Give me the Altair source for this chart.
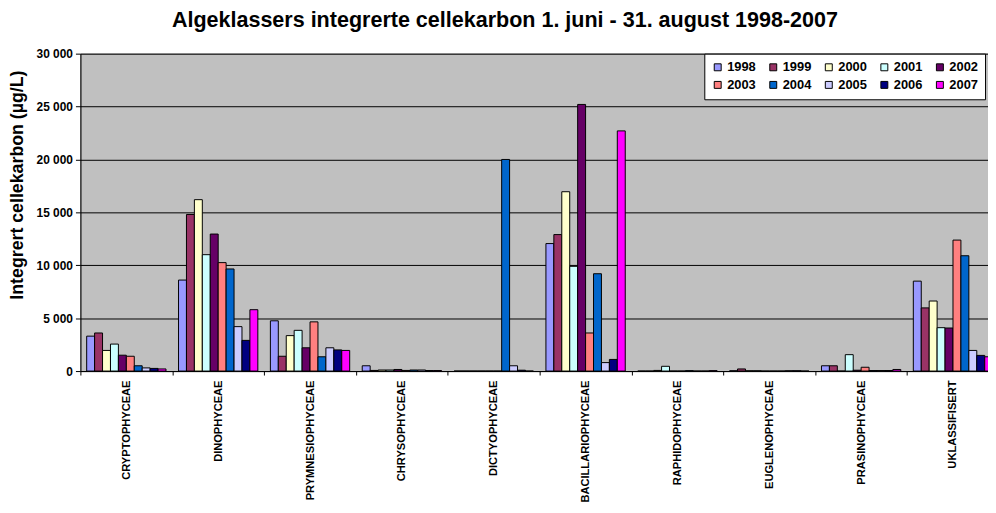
import altair as alt
import pandas as pd

categories = ["CRYPTOPHYCEAE", "DINOPHYCEAE", "PRYMNESIOPHYCEAE", "CHRYSOPHYCEAE",
              "DICTYOPHYCEAE", "BACILLARIOPHYCEAE", "RAPHIDOPHYCEAE", "EUGLENOPHYCEAE",
              "PRASINOPHYCEAE", "UKLASSIFISERT"]
years = ["1998", "1999", "2000", "2001", "2002", "2003", "2004", "2005", "2006", "2007"]

v1998 = [3300, 8600, 4750, 500, 0, 12050, 0, 30, 500, 8500]
v1999 = [3600, 14800, 1400, 60, 0, 12900, 0, 200, 500, 5970]
v2000 = [1950, 16200, 3350, 100, 0, 16950, 60, 30, 0, 6620]
v2001 = [2550, 11000, 3850, 100, 0, 9900, 450, 30, 1550, 4100]
v2002 = [1500, 12950, 2200, 150, 0, 25200, 0, 0, 80, 4070]
v2003 = [1400, 10250, 4650, 60, 0, 3600, 0, 0, 360, 12380]
v2004 = [500, 9650, 1350, 100, 20000, 9200, 40, 0, 50, 10900]
v2005 = [300, 4200, 2200, 100, 500, 800, 0, 30, 50, 1950]
v2006 = [250, 2900, 2000, 50, 80, 1100, 0, 30, 50, 1480]
v2007 = [200, 5800, 1950, 50, 0, 22700, 40, 0, 150, 1350]

series = dict(zip(years, [v1998, v1999, v2000, v2001, v2002, v2003, v2004, v2005, v2006, v2007]))
colors = ["#9999FF", "#993366", "#FFFFCC", "#CCFFFF", "#660066",
          "#FF8080", "#0066CC", "#CCCCFF", "#000080", "#FF00FF"]

rows = []
for yr in years:
    for c, v in zip(categories, series[yr]):
        rows.append({"Klasse": c, "Aar": yr, "Verdi": v})
df = pd.DataFrame(rows)

FONT = "Liberation Sans"

chart = alt.Chart(df).mark_bar(stroke="black", strokeWidth=1).encode(
    x=alt.X("Klasse:N", sort=categories,
            scale=alt.Scale(paddingInner=0, paddingOuter=0),
            axis=alt.Axis(title=None, labelAngle=-90, labelFontSize=11.2, labelFontWeight="bold",
                          labelColor="black", labelPadding=5, tickSize=4, tickColor="black",
                          domainColor="black", tickBand="extent", grid=False, labelFont=FONT)),
    xOffset=alt.XOffset("Aar:N", sort=years, scale=alt.Scale(paddingInner=0, paddingOuter=0.79)),
    y=alt.Y("Verdi:Q", scale=alt.Scale(domain=[0, 30000]),
            axis=alt.Axis(title="Integrert cellekarbon (µg/L)",
                          values=[0, 5000, 10000, 15000, 20000, 25000, 30000],
                          labelExpr="replace(format(datum.value, ','), ',', ' ')",
                          grid=True, gridColor="black", gridWidth=1, gridOpacity=1,
                          tickSize=5, tickColor="black", domainColor="black",
                          labelPadding=3, labelFontSize=12, labelFontWeight="bold",
                          labelColor="black", labelFont=FONT,
                          titleFontSize=17.9, titleFontWeight="bold", titleColor="black",
                          titleFont=FONT, titleX=-63, titleY=132, titleAngle=270,
                          titleAlign="center", titleBaseline="middle")),
    color=alt.Color("Aar:N", sort=years, scale=alt.Scale(domain=years, range=colors),
                    legend=alt.Legend(title=None, orient="none", legendX=629, legendY=0,
                                      columns=5, direction="horizontal",
                                      symbolType="square", symbolSize=49,
                                      symbolStrokeColor="black", symbolStrokeWidth=1,
                                      symbolOpacity=1, symbolOffset=0,
                                      labelFontSize=13, labelFontWeight="bold",
                                      labelColor="black", labelFont=FONT, labelOffset=3,
                                      columnPadding=11, rowPadding=4, padding=7,
                                      fillColor="white", strokeColor="black")),
).properties(
    width=926,
    height=320,
    title=alt.TitleParams("Algeklassers integrerte cellekarbon 1. juni - 31. august 1998-2007",
                          fontSize=21.7, fontWeight="bold", font=FONT, color="black",
                          anchor="middle", dx=-35, dy=-12),
    autosize=alt.AutoSizeParams(type="none"),
    padding={"left": 73, "top": 44, "right": -11, "bottom": 133},
    background="white",
).configure_view(fill="#C0C0C0", stroke="#808080")

chart.save("out.html", embed_options={"renderer": "svg", "actions": False})
